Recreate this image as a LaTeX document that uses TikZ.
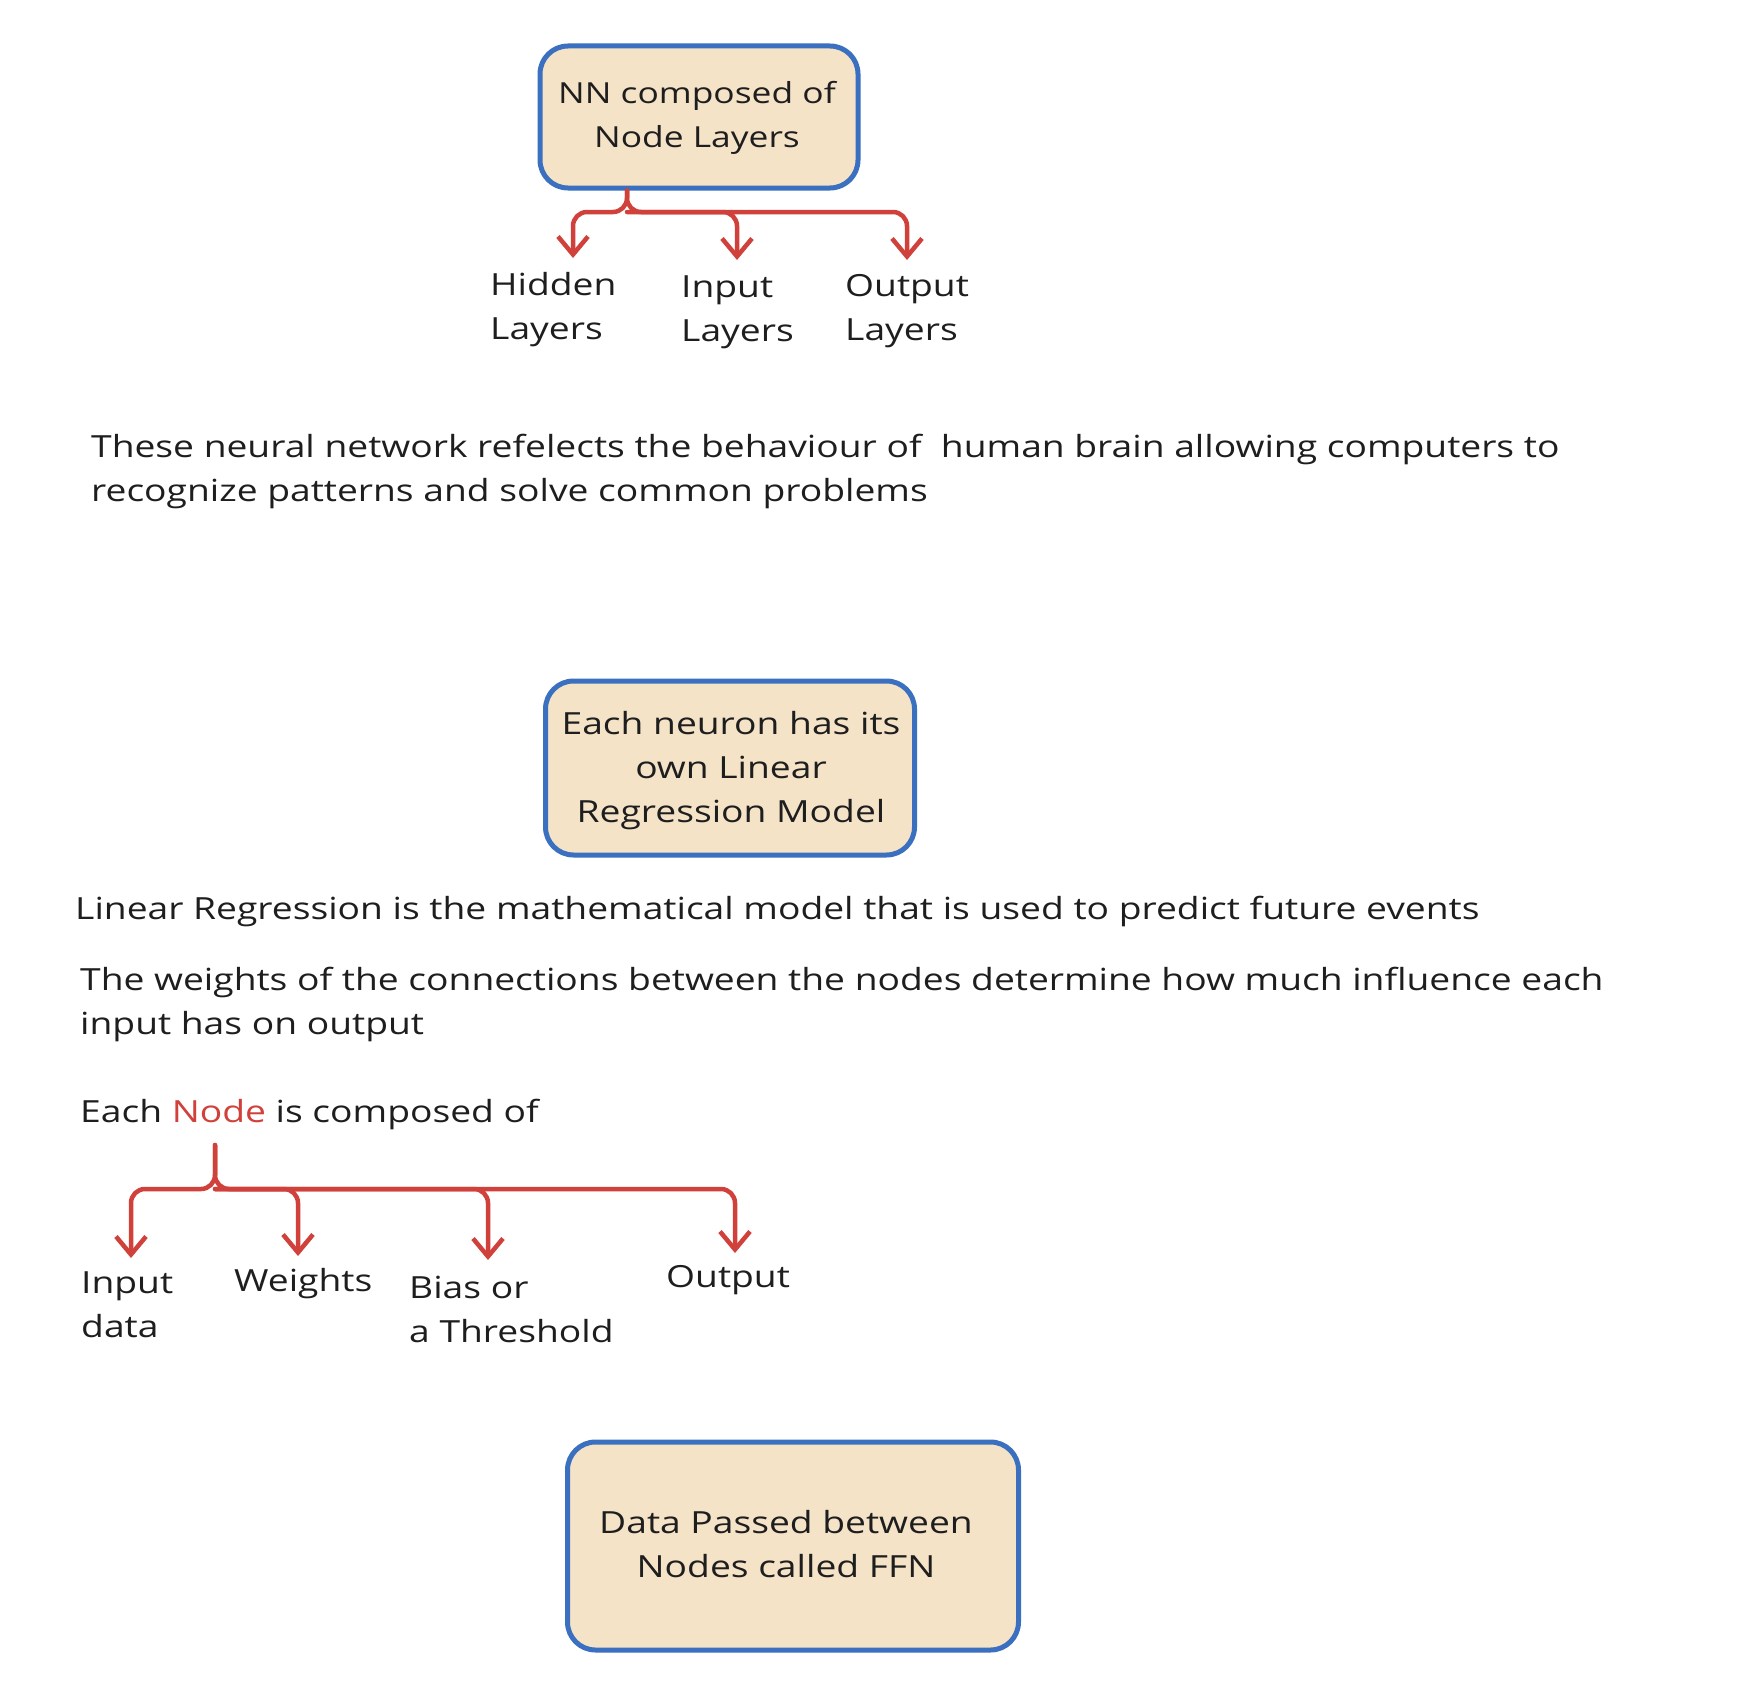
\documentclass[tikz,border=0pt]{standalone}
\usepackage{fontspec}
\setmainfont{Open Sans}[FakeStretch=1.22]
\usetikzlibrary{arrows.meta,calc}
\definecolor{boxfill}{HTML}{F5E3C8}
\definecolor{boxline}{HTML}{3A70BF}
\definecolor{arrred}{HTML}{D0413B}
\definecolor{ink}{HTML}{1E1E1E}
\tikzset{
  sbox/.style={draw=boxline, fill=boxfill, line width=5pt, rounded corners=28pt, inner sep=0pt},
  txt/.style={text=ink, font=\fontsize{30.5}{44}\selectfont, inner sep=0pt, align=left, anchor=west},
  ctxt/.style={text=ink, font=\fontsize{30.5}{44}\selectfont, inner sep=0pt, align=center},
  rarrow/.style={draw=arrred, line width=4.5pt, line cap=round, line join=round, rounded corners=14pt,
    -{Straight Barb[length=18pt,width=30pt,line width=4.5pt]}}
}
\begin{document}
\begin{tikzpicture}[x=1pt,y=-1pt]
\useasboundingbox[fill=white] (0,0) rectangle (1746,1702);

% ---------- top box ----------
\node[sbox, minimum width=318pt, minimum height=142pt] (box1) at (699,117) {};
\node[ctxt, font=\fontsize{29}{44}\selectfont] (box1t) at (697,118) {NN composed of\\Node Layers};

\coordinate (j1) at (627,212);
\coordinate (tipH) at (573,258);
\coordinate (tipI) at (737,260);
\coordinate (tipO) at (907,260);

\draw[rarrow] (box1.south -| j1) -- (j1) -| (tipH);
\draw[rarrow] (box1.south -| j1) -- (j1) -| (tipI);
\draw[rarrow] (j1) -| (tipO);

\node[txt] (lh) at (490,310) {Hidden\\Layers};
\node[txt] (li) at (681,312) {Input\\Layers};
\node[txt] (lo) at (845,311) {Output\\Layers};

% ---------- paragraph 1 ----------
\node[txt, anchor=north west] (p1) at (91,434) {These neural network refelects the behaviour of\ \ human brain allowing computers to\\recognize patterns and solve common problems};

% ---------- middle box ----------
\node[sbox, minimum width=369pt, minimum height=174pt] (box2) at (730,768) {};
\node[ctxt] (box2t) at (731,771) {Each neuron has its\\own Linear\\Regression Model};

% ---------- paragraphs ----------
\node[txt] (p2) at (75,911) {Linear Regression is the mathematical model that is used to predict future events};
\node[txt, anchor=north west] (p3) at (80,967) {The weights of the connections between the nodes determine how much influence each\\input has on output};

\node[txt] (p4) at (80,1114) {Each \textcolor{arrred}{Node} is composed of};

% ---------- lower branches ----------
\coordinate (s2) at (215,1145);
\coordinate (j2) at (215,1189);
\coordinate (tA) at (131,1258);
\coordinate (tB) at (298,1256);
\coordinate (tC) at (488,1260);
\coordinate (tD) at (735,1253);

\draw[rarrow] (s2) -- (j2) -| (tA);
\draw[rarrow] (s2) -- (j2) -| (tB);
\draw[rarrow] (j2) -| (tC);
\draw[rarrow] (j2) -| (tD);

\node[txt] (la) at (81,1305) {Input\\data};
\node[txt] (lb) at (234,1284) {Weights};
\node[txt] (lc) at (409,1309) {Bias or\\a Threshold};
\node[txt] (ld) at (666,1280) {Output};

% ---------- bottom box ----------
\node[sbox, minimum width=451pt, minimum height=208pt] (box3) at (793,1546) {};
\node[ctxt] (box3t) at (786,1544) {Data Passed between\\Nodes called FFN};
\end{tikzpicture}
\end{document}
